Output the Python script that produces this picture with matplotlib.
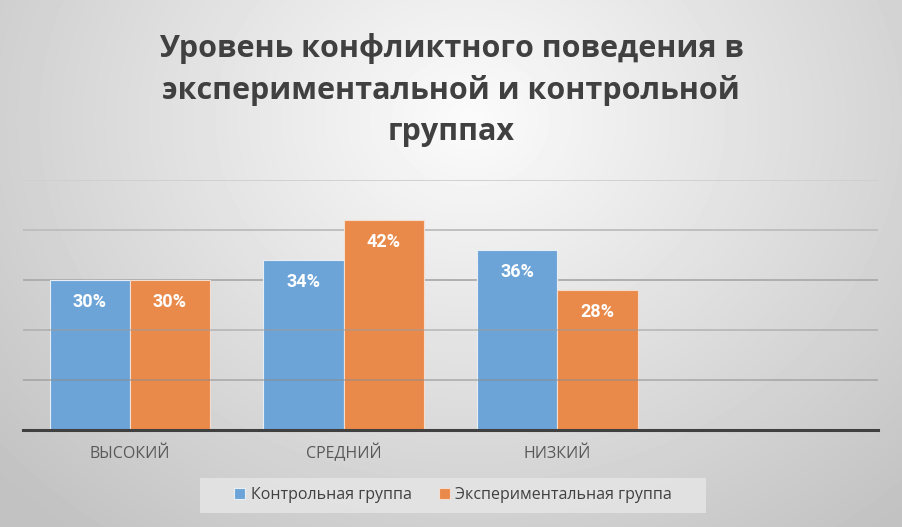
import matplotlib.pyplot as plt
import numpy as np
from matplotlib.patches import Rectangle

plt.rcParams['font.family'] = ['Open Sans', 'DejaVu Sans']

categories = ['ВЫСОКИЙ', 'СРЕДНИЙ', 'НИЗКИЙ', '']
control = [30, 34, 36, np.nan]
experimental = [30, 42, 28, np.nan]
series_names = ['Контрольная группа', 'Экспериментальная группа']
title = 'Уровень конфликтного поведения в\nэкспериментальной и контрольной\nгруппах'

BLUE = '#6da4d7'
ORANGE = '#ea8a4a'

fig = plt.figure(figsize=(9.02, 5.27), dpi=100)

# radial grey background
bg = fig.add_axes([0, 0, 1, 1], zorder=-10)
yy, xx = np.mgrid[0:527, 0:902]
r = np.sqrt(((xx - 470) / 620.0) ** 2 + ((yy - 120) / 520.0) ** 2)
shade = np.clip(0.985 - 0.22 * r, 0.76, 1.0)
bg.imshow(shade, cmap='gray', vmin=0, vmax=1, aspect='auto', extent=[0, 1, 0, 1])
bg.set_axis_off()

ax = fig.add_axes([23 / 902, 1 - 430 / 527, 855 / 902, 250 / 527])
ax.patch.set_alpha(0)

x = np.arange(len(categories))
w = 0.375
b1 = ax.bar(x - w / 2, control, w, color=BLUE, edgecolor='#e8eef5', linewidth=0.8,
            label=series_names[0], zorder=2)
b2 = ax.bar(x + w / 2, experimental, w, color=ORANGE, edgecolor='#f3ddd0', linewidth=0.8,
            label=series_names[1], zorder=2)

for bars in (b1, b2):
    ax.bar_label(bars, labels=[f'{v:.0f}%' if not np.isnan(v) else '' for v in bars.datavalues],
                 padding=-22, color='white', fontsize=13, fontweight='bold',
                 family='Roboto')

ax.set_xlim(-0.5, len(categories) - 0.5)
ax.set_ylim(0, 50)

grid_colors = ['#8c8c8c', '#9c9c9c', '#ababab', '#bdbdbd', '#cfcfcf']
for val, c in zip([10, 20, 30, 40, 50], grid_colors):
    ax.axhline(val, color=c, linewidth=1.3, zorder=3 if val <= 20 else 1, alpha=0.55 if val <= 20 else 1)

for s in ['top', 'right', 'left']:
    ax.spines[s].set_visible(False)
ax.spines['bottom'].set_color('#404040')
ax.spines['bottom'].set_linewidth(2.2)
ax.spines['bottom'].set_zorder(4)
ax.set_yticks([])
ax.set_xticks(x)
ax.set_xticklabels(categories, fontsize=11.5, color='#595959', va='baseline')
ax.tick_params(axis='x', length=0, pad=20)

fig.text(0.5, 1 - 90 / 527, title, ha='center', va='center', fontsize=22,
         fontweight='bold', color='#404040', linespacing=1.47)

# legend background box
fig.patches.append(Rectangle((200 / 902, 1 - 513 / 527), 506 / 902, 35 / 527,
                             transform=fig.transFigure, facecolor='#e4e4e4',
                             edgecolor='none', alpha=0.9, zorder=0))
leg = fig.legend(loc='center', bbox_to_anchor=(453 / 902, 1 - 495 / 527), ncols=2,
                 frameon=False, fontsize=11.5, handlelength=0.7, handleheight=0.7,
                 handletextpad=0.35, columnspacing=1.7, borderaxespad=0)
for t in leg.get_texts():
    t.set_color('#404040')

fig.savefig('out.png', dpi=100)
